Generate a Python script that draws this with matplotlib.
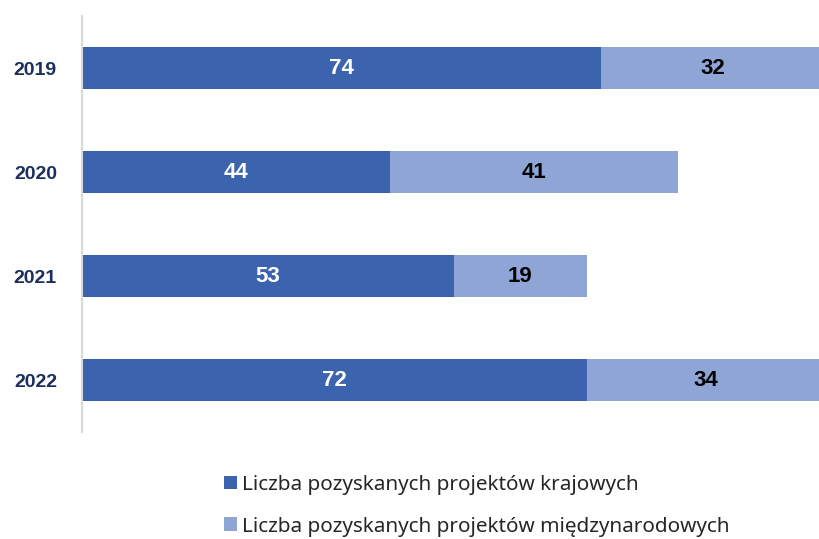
import numpy as np
import matplotlib.pyplot as plt

plt.rcParams['font.family'] = ['Noto Sans', 'DejaVu Sans']

years = ['2019', '2020', '2021', '2022']
krajowe = [74, 44, 53, 72]
miedzynarodowe = [32, 41, 19, 34]
labels = ['Liczba pozyskanych projektów krajowych',
          'Liczba pozyskanych projektów międzynarodowych']

dark = '#3C64AE'
light = '#8FA5D5'
bold_font = ['Liberation Sans', 'DejaVu Sans']

fig = plt.figure(figsize=(8.19, 5.39), dpi=100)
# axes run past the right edge like in the source (bars are cut off)
ax = fig.add_axes([0.1001, 0.1985, 0.9416, 0.7715])

y = np.arange(len(years))
b1 = ax.barh(y, krajowe, height=0.4, color=dark, label=labels[0])
b2 = ax.barh(y, miedzynarodowe, height=0.4, left=krajowe, color=light, label=labels[1])

for i in range(len(years)):
    ax.text(krajowe[i] / 2, y[i], str(krajowe[i]), ha='center', va='center',
            color='white', fontsize=16, fontweight='bold', family=bold_font)
    ax.text(krajowe[i] + miedzynarodowe[i] / 2, y[i], str(miedzynarodowe[i]),
            ha='center', va='center', color='black', fontsize=16,
            fontweight='bold', family=bold_font)

ax.set_xlim(0, 110)
ax.set_ylim(3.5, -0.5)
ax.set_yticks(y)
ax.set_yticklabels(years, fontsize=14, fontweight='bold', color='#1B2E5E',
                   family=bold_font)
ax.tick_params(axis='y', length=0, pad=18)
ax.set_xticks([])
for s in ['top', 'right', 'bottom']:
    ax.spines[s].set_visible(False)
ax.spines['left'].set_color('#D9D9D9')
ax.spines['left'].set_linewidth(1.5)

fig.legend(handles=[b1, b2], loc='upper left', bbox_to_anchor=(0.273, 0.119),
           frameon=False, fontsize=14.9, handlelength=0.65, handleheight=0.65,
           handletextpad=0.25, labelspacing=1.05, labelcolor='#262626',
           borderaxespad=0, borderpad=0)

fig.savefig('out.png', dpi=100)
